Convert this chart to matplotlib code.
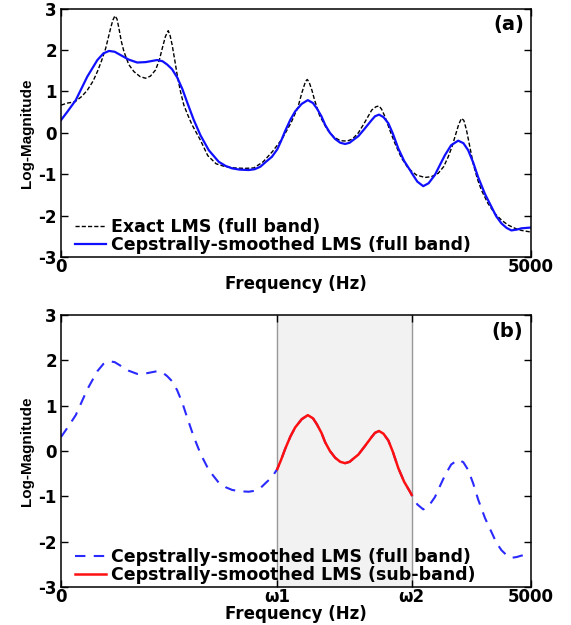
import numpy as np
import matplotlib.pyplot as plt

plt.rcParams['font.family'] = ['DejaVu Sans']
plt.rcParams['font.weight'] = 'bold'
plt.rcParams['axes.unicode_minus'] = False

# cepstrally-smoothed log-magnitude spectrum
smooth_freq = [0, 67, 156, 279, 386, 450, 510, 570, 633, 720, 810, 900, 1022, 1080,
               1129, 1180, 1235, 1290, 1341, 1410, 1483, 1571, 1677, 1750, 1819, 1900,
               1996, 2060, 2120, 2180, 2243, 2300, 2340, 2385, 2440, 2491, 2560, 2625,
               2680, 2721, 2770, 2810, 2860, 2916, 2970, 3022, 3070, 3110, 3163, 3230,
               3305, 3340, 3383, 3430, 3482, 3530, 3588, 3650, 3712, 3730, 3790, 3853,
               3910, 3977, 4030, 4084, 4150, 4225, 4280, 4331, 4385, 4437, 4510, 4579,
               4630, 4685, 4740, 4791, 4850, 4897, 5000]
smooth_mag = [0.31, 0.51, 0.79, 1.36, 1.76, 1.92, 1.98, 1.96, 1.88, 1.77, 1.70, 1.71,
              1.76, 1.73, 1.65, 1.54, 1.34, 1.06, 0.74, 0.32, -0.06, -0.42, -0.70, -0.80,
              -0.86, -0.89, -0.90, -0.88, -0.82, -0.70, -0.58, -0.40, -0.20, 0.05, 0.32,
              0.52, 0.70, 0.79, 0.72, 0.59, 0.40, 0.19, 0.00, -0.15, -0.24, -0.27, -0.24,
              -0.17, -0.08, 0.10, 0.31, 0.40, 0.44, 0.38, 0.23, -0.02, -0.38, -0.68,
              -0.90, -0.97, -1.18, -1.29, -1.22, -1.02, -0.78, -0.54, -0.30, -0.19, -0.25,
              -0.42, -0.72, -1.07, -1.48, -1.79, -2.02, -2.19, -2.30, -2.36, -2.34, -2.31,
              -2.29]

# exact log-magnitude spectrum
exact_freq = [0, 70, 147, 220, 279, 340, 386, 430, 474, 500, 527, 550, 573, 595, 615,
              640, 669, 720, 775, 840, 898, 950, 1005, 1045, 1076, 1110, 1140, 1160, 1182,
              1210, 1235, 1270, 1306, 1350, 1394, 1483, 1560, 1650, 1750, 1850, 1950, 2050,
              2150, 2250, 2350, 2446, 2520, 2562, 2600, 2619, 2640, 2670, 2696, 2750, 2831,
              2900, 2970, 3043, 3100, 3163, 3230, 3305, 3350, 3383, 3410, 3446, 3500, 3553,
              3620, 3694, 3780, 3870, 3940, 4012, 4070, 4119, 4160, 4190, 4230, 4260, 4285,
              4313, 4350, 4384, 4430, 4473, 4540, 4614, 4690, 4756, 4830, 4897, 5000]
exact_mag = [0.67, 0.72, 0.75, 0.88, 1.03, 1.25, 1.48, 1.74, 2.04, 2.28, 2.53, 2.72,
             2.83, 2.75, 2.53, 2.22, 1.96, 1.65, 1.48, 1.36, 1.32, 1.37, 1.52, 1.76, 2.04,
             2.33, 2.47, 2.35, 2.12, 1.75, 1.40, 1.00, 0.67, 0.42, 0.19, -0.18, -0.55,
             -0.75, -0.82, -0.85, -0.86, -0.85, -0.70, -0.45, -0.15, 0.24, 0.62, 0.97,
             1.24, 1.29, 1.22, 1.02, 0.80, 0.42, 0.08, -0.10, -0.19, -0.20, -0.15, 0.00,
             0.25, 0.55, 0.63, 0.65, 0.57, 0.39, 0.05, -0.26, -0.60, -0.86, -1.02, -1.08,
             -1.06, -0.98, -0.82, -0.58, -0.33, -0.10, 0.20, 0.35, 0.30, 0.07, -0.35,
             -0.74, -1.12, -1.39, -1.70, -1.95, -2.12, -2.23, -2.31, -2.36, -2.40]

# sub-band edges
w1, w2 = 2300, 3730

smooth_freq = np.array(smooth_freq)
smooth_mag = np.array(smooth_mag)

fig = plt.figure(figsize=(5.71, 6.25), dpi=100)
ax1 = fig.add_axes([0.107, 0.589, 0.823, 0.397])
ax2 = fig.add_axes([0.107, 0.061, 0.823, 0.435])

leg_kw = dict(loc='lower left', frameon=False, fontsize=12.5, handlelength=1.8,
              handletextpad=0.25, labelspacing=0.02, borderaxespad=0.0)


def style_axes(ax):
    ax.set_xlim(0, 5000)
    ax.set_ylim(-3, 3)
    ax.set_yticks(range(-3, 4))
    ax.tick_params(direction='in', top=True, right=True, length=5, width=1,
                   labelsize=12)
    ax.tick_params(axis='x', pad=1)
    ax.tick_params(axis='y', pad=3)
    for s in ax.spines.values():
        s.set_linewidth(1.1)
    ax.set_ylabel('Log-Magnitude', fontsize=11, fontweight='bold', labelpad=3,
                  family='Liberation Sans')
    ax.set_xlabel('Frequency (Hz)', fontsize=12, fontweight='bold')


# (a)
ax1.plot(exact_freq, exact_mag, color='black', lw=1.0, ls=(0, (3, 1.5)),
         label='Exact LMS (full band)')
ax1.plot(smooth_freq, smooth_mag, color='#1010ff', lw=1.6,
         label='Cepstrally-smoothed LMS (full band)')
style_axes(ax1)
ax1.set_xticks([0, 5000])
ax1.set_xticklabels(['0', '5000'])
ax1.xaxis.labelpad = -1
ax1.text(0.986, 0.935, '(a)', transform=ax1.transAxes, ha='right', va='center',
         fontsize=14, fontweight='bold')
ax1.legend(bbox_to_anchor=(0.015, -0.018), **leg_kw)

# (b)
ax2.axvspan(w1, w2, color='#f2f2f2', zorder=0)
ax2.axvline(w1, color='#999999', lw=1.0, zorder=1)
ax2.axvline(w2, color='#999999', lw=1.0, zorder=1)
ax2.plot(smooth_freq, smooth_mag, color='#2a2aff', lw=1.5, ls=(0, (5, 4)),
         label='Cepstrally-smoothed LMS (full band)', zorder=2)
band = (smooth_freq >= w1) & (smooth_freq <= w2)
ax2.plot(smooth_freq[band], smooth_mag[band], color='#ff1010', lw=1.8,
         label='Cepstrally-smoothed LMS (sub-band)', zorder=3)
style_axes(ax2)
ax2.set_xticks([0, w1, w2, 5000])
ax2.set_xticklabels(['0', 'ω1', 'ω2', '5000'])
ax2.xaxis.labelpad = -1
ax2.text(0.983, 0.9375, '(b)', transform=ax2.transAxes, ha='right', va='center',
         fontsize=14, fontweight='bold')
ax2.legend(bbox_to_anchor=(0.015, -0.015), **leg_kw)

fig.savefig('out.png', dpi=100)
